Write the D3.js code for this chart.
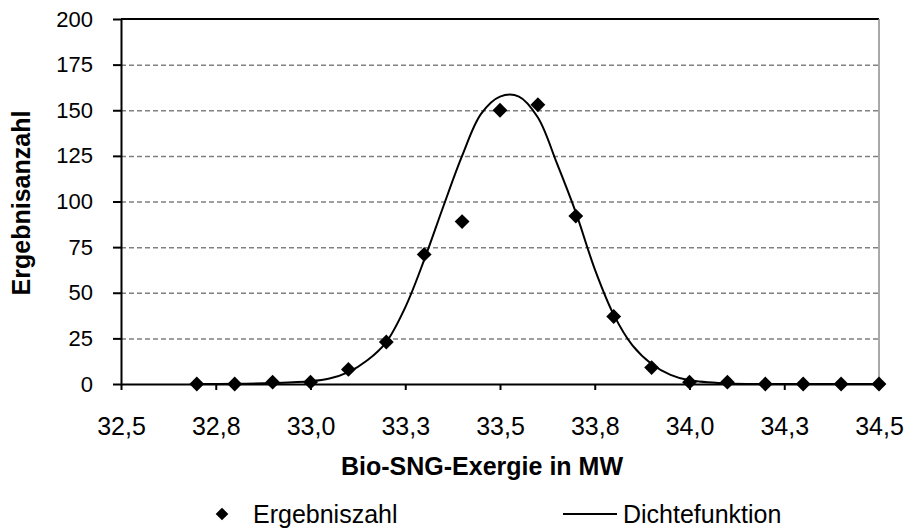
<!DOCTYPE html>
<html lang="de">
<head>
  <meta charset="UTF-8">
  <title>Bio-SNG-Exergie</title>
  <script src="https://d3js.org/d3.v7.min.js"></script>
  <style>
    body { margin: 0; background: #fff; }
    text { font-family: "Liberation Sans", Arial, sans-serif; fill: #000; }
    .gridlines .domain { stroke: none; }
    .gridlines line { stroke: #808080; stroke-width: 1.5; stroke-dasharray: 5,3; }
    .axis .domain { stroke: #000; stroke-width: 2; }
    .axis line { stroke: #000; stroke-width: 2; }
  </style>
</head>
<body>
  <svg id="chart" width="909" height="530"></svg>
  <script>
    // Ergebniszahl (Häufigkeit je Klasse)
    const classX = [32.7, 32.8, 32.9, 33.0, 33.1, 33.2, 33.3, 33.4, 33.5, 33.6,
                    33.7, 33.8, 33.9, 34.0, 34.1, 34.2, 34.3, 34.4, 34.5];
    const classCount = [0, 0, 1, 1, 8, 23, 71, 89, 150, 153,
                        92, 37, 9, 1, 1, 0, 0, 0, 0];

    // Dichtefunktion
    const densityX = [32.7, 32.8, 32.9, 33.0, 33.05, 33.1, 33.15, 33.2, 33.25, 33.3,
                      33.35, 33.4, 33.45, 33.5, 33.55, 33.6, 33.65, 33.7, 33.75,
                      33.8, 33.85, 33.9, 33.95, 34.0, 34.1, 34.2, 34.3, 34.4, 34.5];
    const densityY = [0, 0.1, 0.5, 1.5, 3, 6.5, 13, 23, 42, 68,
                      97, 125, 148, 157.5, 157.5, 146, 121, 94, 63,
                      38, 21, 11, 5, 2, 0.3, 0, 0, 0, 0];

    const xTicks = [32.5, 32.75, 33.0, 33.25, 33.5, 33.75, 34.0, 34.25, 34.5];
    const xTickLabels = ["32,5", "32,8", "33,0", "33,3", "33,5", "33,8", "34,0", "34,3", "34,5"];
    const yTicks = [0, 25, 50, 75, 100, 125, 150, 175, 200];

    const svg = d3.select("svg#chart");
    const margin = {top: 19, right: 30, bottom: 146, left: 121};
    const chartWidth = 909 - margin.left - margin.right;
    const chartHeight = 530 - margin.top - margin.bottom;

    const xScale = d3.scaleLinear().domain([32.5, 34.5]).range([0, chartWidth]);
    const yScale = d3.scaleLinear().domain([0, 200]).range([chartHeight, 0]);

    const chartArea = svg.append("g")
                         .attr("transform", `translate(${margin.left},${margin.top})`);

    // gestrichelte Gitterlinien
    chartArea.append("g")
             .attr("class", "gridlines")
             .call(d3.axisLeft(yScale).tickValues(yTicks.slice(1, -1)).tickFormat("").tickSize(-chartWidth));

    // Rahmen oben (schwarz) und rechts (grau)
    chartArea.append("line")
             .attr("x1", 0).attr("x2", chartWidth)
             .attr("y1", yScale(200)).attr("y2", yScale(200))
             .style("stroke", "#000").style("stroke-width", 2);
    chartArea.append("line")
             .attr("x1", chartWidth).attr("x2", chartWidth)
             .attr("y1", yScale(200)).attr("y2", yScale(0))
             .style("stroke", "#8c8c8c").style("stroke-width", 1.5);

    const leftAxis = chartArea.append("g")
             .attr("class", "axis")
             .call(d3.axisLeft(yScale).tickValues(yTicks).tickSize(8).tickPadding(20).tickSizeOuter(0));
    leftAxis.selectAll("text").style("font-size", "22px");

    const bottomAxis = chartArea.append("g")
             .attr("class", "axis")
             .attr("transform", `translate(0,${chartHeight})`)
             .call(d3.axisBottom(xScale).tickValues(xTicks)
                     .tickFormat((d, i) => xTickLabels[i])
                     .tickSize(6).tickPadding(27).tickSizeOuter(0));
    bottomAxis.selectAll("text").style("font-size", "25px");

    // Dichtefunktion
    const line = d3.line()
                   .x((d, i) => xScale(densityX[i]))
                   .y(d => yScale(d))
                   .curve(d3.curveCatmullRom.alpha(0.5));
    chartArea.append("path")
             .datum(densityY)
             .attr("d", line)
             .style("fill", "none")
             .style("stroke", "#000")
             .style("stroke-width", 2);

    // Ergebniszahl
    const diamond = d3.symbol().type(d3.symbolSquare).size(110);
    chartArea.selectAll(".pt")
             .data(classCount)
             .join("path")
             .attr("class", "pt")
             .attr("d", diamond)
             .attr("transform", (d, i) => `translate(${xScale(classX[i])},${yScale(d)}) rotate(45)`)
             .style("fill", "#000");

    // Achsentitel
    svg.append("text")
       .attr("x", 482)
       .attr("y", 475)
       .attr("text-anchor", "middle")
       .style("font", "bold 25px 'Liberation Sans', Arial, sans-serif")
       .text("Bio-SNG-Exergie in MW");

    svg.append("text")
       .attr("transform", "translate(30,203) rotate(-90)")
       .attr("text-anchor", "middle")
       .style("font", "bold 25px 'Liberation Sans', Arial, sans-serif")
       .text("Ergebnisanzahl");

    // Legende
    const legend = svg.append("g");
    legend.append("path")
          .attr("d", d3.symbol().type(d3.symbolSquare).size(80))
          .attr("transform", "translate(222,514) rotate(45)")
          .style("fill", "#000");
    legend.append("text")
          .attr("x", 253).attr("y", 523)
          .style("font-size", "25px")
          .text("Ergebniszahl");
    legend.append("line")
          .attr("x1", 563).attr("x2", 617)
          .attr("y1", 514).attr("y2", 514)
          .style("stroke", "#000").style("stroke-width", 2);
    legend.append("text")
          .attr("x", 623).attr("y", 523)
          .style("font-size", "25px")
          .text("Dichtefunktion");
  </script>
</body>
</html>
